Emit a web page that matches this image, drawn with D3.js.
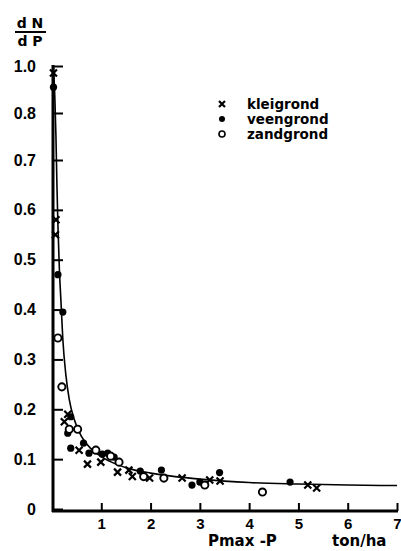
<!DOCTYPE html>
<html>
<head>
<meta charset="utf-8">
<script src="https://cdn.jsdelivr.net/npm/d3@7"></script>
<style>
  html, body { margin: 0; padding: 0; background: #fff; }
  svg { display: block; font-family: "DejaVu Sans", sans-serif; }
  .axis path, .axis line { stroke: #000; }
  .axis text { fill: #000; }
</style>
</head>
<body>
<svg id="chart" width="401" height="551"></svg>
<script>
'use strict'

// readings from the picture: [Pmax - P (ton/ha), dN/dP]
const klei = [[0.03, 0.97], [0.08, 0.58], [0.07, 0.55], [0.32, 0.19], [0.25, 0.175], [0.55, 0.118],
  [0.72, 0.09], [0.99, 0.094], [1.33, 0.074], [1.56, 0.078], [1.63, 0.065], [1.98, 0.062],
  [2.64, 0.062], [3.2, 0.058], [3.41, 0.056], [5.19, 0.048], [5.37, 0.042]]
const veen = [[0.03, 0.91], [0.12, 0.47], [0.22, 0.395], [0.38, 0.185], [0.32, 0.152], [0.38, 0.122],
  [0.64, 0.132], [0.75, 0.112], [1.02, 0.11], [1.13, 0.112], [1.26, 0.104], [1.79, 0.076],
  [2.22, 0.078], [2.84, 0.048], [3.0, 0.054], [3.4, 0.073], [4.83, 0.054]]
const zand = [[0.12, 0.343], [0.2, 0.245], [0.35, 0.16], [0.52, 0.16], [0.89, 0.118], [1.19, 0.106],
  [1.36, 0.094], [1.86, 0.065], [2.27, 0.062], [3.1, 0.048], [4.27, 0.034]]
const curve = [[0.03, 1.0], [0.06, 0.85], [0.08, 0.75], [0.1, 0.65], [0.12, 0.57], [0.15, 0.48],
  [0.18, 0.42], [0.22, 0.34], [0.28, 0.27], [0.35, 0.22], [0.45, 0.18], [0.6, 0.145], [0.8, 0.12],
  [1.0, 0.105], [1.3, 0.09], [1.6, 0.08], [2.0, 0.072], [2.5, 0.065], [3.0, 0.06], [3.5, 0.056],
  [4.0, 0.053], [5.0, 0.05], [6.0, 0.048], [7.0, 0.047]]

const xTicks = [1, 2, 3, 4, 5, 6, 7]
const yTicks = [0, 0.1, 0.2, 0.3, 0.4, 0.5, 0.6, 0.7, 0.8, 1.0]
const legendNames = ['kleigrond', 'veengrond', 'zandgrond']

let svg = d3.select('#chart')

let x = d3.scaleLinear().domain([0, 7]).range([52, 397])
// broken axis: the part above 0.7 is squeezed
let y = d3.scaleLinear().domain([0, 0.7, 0.8, 1.0]).range([509, 160, 113, 66])

// axes
let yAxis = svg.append('g').attr('class', 'axis').attr('transform', `translate(${x(0) + 1},0)`)
  .call(d3.axisLeft(y).tickValues(yTicks).tickSize(-10).tickPadding(20)
    .tickFormat(d => d === 0 ? '0' : d.toFixed(1)))
yAxis.select('.domain').remove()
yAxis.selectAll('line').attr('stroke-width', 2)
yAxis.selectAll('text').attr('font-size', 16).attr('font-weight', 'bold').attr('dx', 3)

let xAxis = svg.append('g').attr('class', 'axis').attr('transform', `translate(0,${y(0) + 2})`)
  .call(d3.axisBottom(x).tickValues(xTicks).tickSize(-8).tickPadding(7).tickFormat(d3.format('d')))
xAxis.select('.domain').remove()
xAxis.selectAll('line').attr('stroke-width', 2)
xAxis.selectAll('text').attr('font-size', 15).attr('font-weight', 'bold')

svg.append('line').attr('x1', x(0) + 1).attr('x2', x(0) + 1).attr('y1', y(1.0) - 1).attr('y2', y(0) + 3)
  .attr('stroke', '#000').attr('stroke-width', 3)
svg.append('line').attr('x1', x(0)).attr('x2', x(7) + 1).attr('y1', y(0) + 2).attr('y2', y(0) + 2)
  .attr('stroke', '#000').attr('stroke-width', 3)

// fitted curve
svg.append('path').datum(curve)
  .attr('d', d3.line().x(d => x(d[0])).y(d => y(d[1])).curve(d3.curveMonotoneX))
  .attr('fill', 'none').attr('stroke', '#000').attr('stroke-width', 1.6)

// markers
let cross = (g, s) => g.append('path').attr('d', `M${-s},${-s}L${s},${s}M${-s},${s}L${s},${-s}`)
  .attr('stroke', '#000').attr('stroke-width', 2.2).attr('fill', 'none')

svg.append('g').selectAll('g').data(klei).enter().append('g')
  .attr('transform', d => `translate(${x(d[0])},${y(d[1])})`)
  .each(function () { cross(d3.select(this), 3.5) })

svg.append('g').selectAll('circle').data(veen).enter().append('circle')
  .attr('cx', d => x(d[0])).attr('cy', d => y(d[1])).attr('r', 3.6).attr('fill', '#000')

svg.append('g').selectAll('circle').data(zand).enter().append('circle')
  .attr('cx', d => x(d[0])).attr('cy', d => y(d[1])).attr('r', 3.6)
  .attr('fill', '#fff').attr('stroke', '#000').attr('stroke-width', 1.9)

// legend
let legend = svg.append('g').attr('transform', 'translate(222,104)')
  .selectAll('g').data(legendNames).enter().append('g')
  .attr('transform', (d, i) => `translate(0,${i * 15})`)

legend.filter((d, i) => i === 0).each(function () { cross(d3.select(this), 3) })
legend.filter((d, i) => i === 1).append('circle').attr('r', 3).attr('fill', '#000')
legend.filter((d, i) => i === 2).append('circle').attr('r', 3)
  .attr('fill', '#fff').attr('stroke', '#000').attr('stroke-width', 1.6)

legend.append('text').attr('x', 25).attr('dy', '0.35em').attr('font-size', 13.5).attr('font-weight', 'bold').text(d => d)

// axis titles
svg.append('text').attr('x', 208).attr('y', 546).attr('font-size', 15).attr('font-weight', 'bold').text('Pmax -P')
svg.append('text').attr('x', 332).attr('y', 546).attr('font-size', 15).attr('font-weight', 'bold').text('ton/ha')

let frac = svg.append('g').attr('font-size', 14).attr('font-weight', 'bold').attr('text-anchor', 'middle')
frac.append('text').attr('x', 30).attr('y', 28).text('d N')
frac.append('line').attr('x1', 15).attr('x2', 46).attr('y1', 32).attr('y2', 32).attr('stroke', '#000').attr('stroke-width', 2)
frac.append('text').attr('x', 30).attr('y', 46).text('d P')
</script>
</body>
</html>
